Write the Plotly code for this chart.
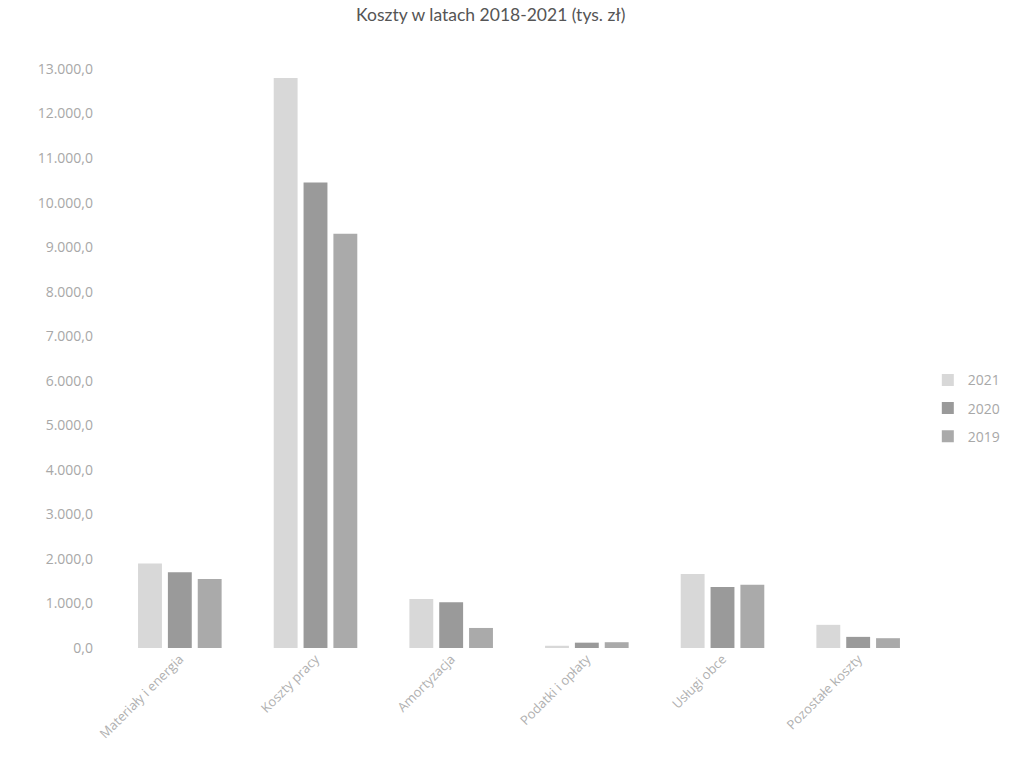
import plotly.graph_objects as go

categories = ["Materiały i energia", "Koszty pracy", "Amortyzacja",
              "Podatki i opłaty", "Usługi obce", "Pozostałe koszty"]
v2021 = [1900, 12800, 1100, 50, 1660, 520]
v2020 = [1700, 10450, 1030, 120, 1370, 250]
v2019 = [1550, 9300, 450, 130, 1420, 220]
y_ticks = [0, 1000, 2000, 3000, 4000, 5000, 6000, 7000, 8000, 9000, 10000, 11000, 12000, 13000]

series = [("2021", v2021, "#d8d8d8"), ("2020", v2020, "#9a9a9a"), ("2019", v2019, "#aaaaaa")]

fig = go.Figure()
for name, vals, col in series:
    fig.add_trace(go.Bar(x=categories, y=vals, name=name, legendgroup=name,
                         marker=dict(color=col, line=dict(width=0))))

fig.update_layout(
    width=1014, height=775,
    paper_bgcolor="white", plot_bgcolor="white",
    margin=dict(l=112, r=88, t=69, b=127, autoexpand=False),
    separators=",.",
    barmode="group", bargap=0.34, bargroupgap=0.2,
    title=dict(text="Koszty w latach 2018-2021 (tys. zł)", x=0.484, xanchor="center",
               y=0.981, yanchor="middle",
               font=dict(family="Lato, sans-serif", size=17.5, color="#555555")),
    font=dict(family="Open Sans, sans-serif", color="#a8a8a8", size=12),
    legend=dict(xref="container", x=0.915, y=0.414, xanchor="left", yanchor="middle",
                font=dict(size=14, color="#a8a8a8"), itemwidth=30,
                tracegroupgap=7, bgcolor="rgba(0,0,0,0)"),
    showlegend=True,
)
fig.update_yaxes(range=[0, 13000], tickvals=y_ticks, tickformat=",.1f",
                 showgrid=False, zeroline=False, showline=False,
                 ticks="", ticklabelstandoff=18,
                 tickfont=dict(size=14, color="#a8a8a8"))
fig.update_xaxes(tickangle=-45, showgrid=False, showline=False, ticks="",
                 tickfont=dict(size=13, color="#b0b0b0"))

fig.write_html("out.html")
